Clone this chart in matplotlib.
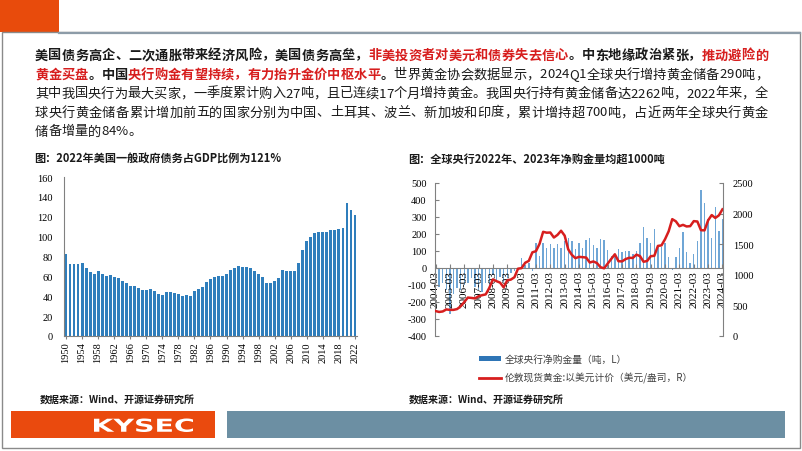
import numpy as np
import matplotlib
matplotlib.use("Agg")
import matplotlib.pyplot as plt
from matplotlib.font_manager import FontProperties
from matplotlib.textpath import TextPath
from matplotlib.patches import PathPatch, Rectangle, Patch
from matplotlib.lines import Line2D
from matplotlib.transforms import Affine2D

plt.rcParams['axes.unicode_minus'] = False

CJK = 'Noto Sans CJK SC'
SERIF = 'Liberation Serif'
RED = '#D71E1E'
ORANGE = '#E84B0C'
GRAY = '#808080'

# ---------------- data ----------------
# left chart: US general government debt / GDP (%)
years = np.arange(1950, 2023)
debt_ratio = [
    83.0, 72.8, 72.5, 72.0, 73.5, 68.5, 64.8, 62.4, 65.0, 62.4,
    60.7, 61.4, 59.4, 58.0, 55.7, 53.0, 50.3, 50.3, 48.7, 46.6,
    46.6, 47.0, 45.6, 42.6, 41.6, 44.6, 44.6, 43.6, 42.3, 40.6,
    41.3, 40.6, 45.0, 47.7, 49.3, 54.4, 57.7, 59.4, 60.4, 60.4,
    62.0, 66.8, 68.8, 70.5, 69.5, 69.0, 68.5, 65.8, 62.8, 59.4,
    53.4, 53.4, 55.7, 58.7, 66.0, 65.8, 65.0, 65.0, 73.8, 87.0,
    95.3, 99.3, 103.4, 104.7, 104.7, 105.0, 107.0, 106.4, 107.4, 108.7,
    133.6, 126.5, 121.5,
]
debt_ticks = np.arange(1950, 2023, 4)

# right chart: quarterly, 2004Q1 .. 2024Q1
q_labels = [f"{y}-03" for y in range(2004, 2025)]
cb_net_purchases = [
    -60, -110, -90, -130,
    -270, -150, -120, -130,
    -100, -90, -60, -110,
    -130, -140, -90, -120,
    -40, -70, -50, -80,
    -60, -30, -20, -10,
    60, 15, 30, -15,
    145, 70, 150, 120,
    140, 120, 140, 115,
    160, 175, 160, 110,
    145, 118, 165, 175,
    137, 120, 170, 165,
    105, 72, 72, 110,
    92, 98, 98, 82,
    98, 150, 243, 176,
    145, 230, 131, 122,
    145, 63, -10, 63,
    118, 214, 92, 27,
    82, 157, 460, 384,
    286, 175, 357, 220,
    290,
]
gold_price = [
    408, 393, 401, 434,
    427, 427, 440, 485,
    554, 628, 622, 614,
    650, 667, 680, 788,
    925, 896, 872, 795,
    908, 922, 960, 1100,
    1109, 1197, 1227, 1367,
    1386, 1506, 1702, 1688,
    1691, 1609, 1652, 1720,
    1640, 1415, 1326, 1272,
    1293, 1288, 1282, 1201,
    1218, 1192, 1124, 1106,
    1183, 1260, 1335, 1222,
    1219, 1257, 1278, 1275,
    1329, 1306, 1213, 1226,
    1304, 1310, 1472, 1481,
    1583, 1711, 1909, 1874,
    1794, 1816, 1790, 1795,
    1877, 1871, 1729, 1726,
    1890, 1976, 1929, 1971,
    2070,
]

# paragraph (text, colour, weight) per line
K, R = '#1A1A1A', RED
para_lines = [
    [("美国债务高企、二次通胀带来经济风险，美国债务高垒，", K, 'bold'),
     ("非美投资者对美元和债券失去信心", R, 'bold'),
     ("。中东地缘政治紧张，", K, 'bold'),
     ("推动避险的", R, 'bold')],
    [("黄金买盘", R, 'bold'),
     ("。中国", K, 'bold'),
     ("央行购金有望持续，有力抬升金价中枢水平", R, 'bold'),
     ("。", K, 'bold'),
     ("世界黄金协会数据显示，2024Q1全球央行增持黄金储备290吨，", K, 'normal')],
    [("其中我国央行为最大买家，一季度累计购入27吨，且已连续17个月增持黄金。我国央行持有黄金储备达2262吨，2022年来，全", K, 'normal')],
    [("球央行黄金储备累计增加前五的国家分别为中国、土耳其、波兰、新加坡和印度，累计增持超700吨，占近两年全球央行黄金", K, 'normal')],
    [("储备增量的84%。", K, 'normal')],
]

# ---------------- figure ----------------
W, H = 802, 452
fig = plt.figure(figsize=(W / 100, H / 100), dpi=100)
bg = fig.add_axes([0, 0, 1, 1])
bg.set_xlim(0, W)
bg.set_ylim(H, 0)
bg.axis('off')


def px_rect(x0, y0, x1, y1):
    return [x0 / W, 1 - y1 / H, (x1 - x0) / W, (y1 - y0) / H]


# slide decoration
bg.add_patch(Rectangle((0, 0), 59, 33, color=ORANGE, lw=0))
bg.plot([59, 800], [33.5, 33.5], color='#8D9CA8', lw=1.6)
bg.add_patch(Rectangle((1.5, 33), 798, 415.5, fill=False, ec='#8A8A8A', lw=1))
bg.add_patch(Rectangle((11, 412), 204, 27, color='#EA4A0E', lw=0))
bg.add_patch(Rectangle((227, 412), 558, 27, color='#6C8FA3', lw=0))

tp = TextPath((0, 0), "KYSEC", size=10, prop=FontProperties(family='DejaVu Sans', weight='bold'))
ext = tp.get_extents()
sx, sy = 99 / ext.width, 13.5 / ext.height
tr = Affine2D().translate(-ext.x0, -ext.y0).scale(sx, -sy).translate(94, 433)
bg.add_patch(PathPatch(tr.transform_path(tp), color='white', lw=0))

# ---------------- paragraph (justified) ----------------
FS = 9.5
renderer = fig.canvas.get_renderer()
_adv = {}


def advance(ch, weight):
    key = (ch, weight)
    if key not in _adv:
        fp = FontProperties(family=CJK, size=FS, weight=weight)
        w2 = renderer.get_text_width_height_descent("口口", fp, ismath=False)[0]
        w3 = renderer.get_text_width_height_descent("口" + ch + "口", fp, ismath=False)[0]
        _adv[key] = w3 - w2
    return _adv[key]


def draw_line(segs, y, x0=35, x1=768, justify=True):
    chars = []
    for s, color, weight in segs:
        for ch in s:
            chars.append((ch, color, weight, advance(ch, weight)))
    total = sum(c[3] for c in chars)
    gap = (x1 - x0 - total) / (len(chars) - 1) if justify else 0
    x = x0
    for ch, color, weight, w in chars:
        bg.text(x, y, ch, color=color, fontsize=FS, fontweight=weight,
                family=CJK, ha='left', va='baseline')
        x += w + gap


line_y = [59.5, 78.5, 97.5, 116.5, 135.5]
for i, segs in enumerate(para_lines):
    draw_line(segs, line_y[i], justify=(i < 4))

# titles and sources
bg.text(34, 159, "图：2022年美国一般政府债务占GDP比例为121%", fontsize=8, fontweight='bold',
        family=CJK, va='center', color=K)
bg.text(408, 159, "图：全球央行2022年、2023年净购金量均超1000吨", fontsize=8, fontweight='bold',
        family=CJK, va='center', color=K)
bg.text(40, 400, "数据来源：Wind、开源证券研究所", fontsize=7.2, fontweight='bold',
        family=CJK, va='center', color=K)
bg.text(409, 400, "数据来源：Wind、开源证券研究所", fontsize=7.2, fontweight='bold',
        family=CJK, va='center', color=K)

# ---------------- left chart ----------------
BLUE_L = '#2F7EBC'
axl = fig.add_axes(px_rect(64, 178, 357, 337))
axl.set_facecolor('none')
axl.bar(years, debt_ratio, width=0.72, color=BLUE_L, lw=0)
axl.set_xlim(1949.5, 2022.5)
axl.set_ylim(0, 160)
axl.set_yticks(range(0, 161, 20))
axl.set_xticks(debt_ticks)
axl.set_xticklabels([str(y) for y in debt_ticks])
for s in ['top', 'right']:
    axl.spines[s].set_visible(False)
for s in ['left', 'bottom']:
    axl.spines[s].set_color(GRAY)
    axl.spines[s].set_linewidth(0.8)
axl.tick_params(axis='y', length=0, pad=8, labelsize=7.5)
axl.tick_params(axis='x', length=2, pad=2, labelsize=7.5, color=GRAY, labelrotation=90,
                labelfontfamily=SERIF)
axl.tick_params(axis='y', labelfontfamily=SERIF)

bg.legend(handles=[Patch(facecolor=BLUE_L, label="公共部门债务占GDP比重:一般政府债务:美国 %")],
          loc='center', bbox_to_anchor=(200, 379), bbox_transform=bg.transData,
          frameon=False, handlelength=0.6, handleheight=0.6, handletextpad=0.2,
          prop=FontProperties(family=CJK, size=7), labelcolor='#404040', borderpad=0)

# ---------------- right chart ----------------
BAR_R = '#6FA6D6'
axr = fig.add_axes(px_rect(435, 184, 723, 337))
axr.set_facecolor('none')
xq = np.arange(len(cb_net_purchases))
axr.bar(xq, cb_net_purchases, width=0.4, color=BAR_R, lw=0)
axr.set_xlim(-0.15, len(xq) - 0.85)
axr.set_ylim(-400, 500)
axr.set_yticks(range(-400, 501, 100))
axr.set_xticks(np.arange(0, len(xq), 4))
axr.set_xticklabels(q_labels)
axr.spines['bottom'].set_position(('data', 0))
for s in ['top', 'right']:
    axr.spines[s].set_visible(False)
for s in ['left', 'bottom']:
    axr.spines[s].set_color(GRAY)
    axr.spines[s].set_linewidth(0.8)
axr.tick_params(axis='y', direction='in', length=3, pad=6, labelsize=7.5, color=GRAY,
                labelfontfamily=SERIF)
axr.tick_params(axis='x', direction='in', length=3, pad=1.5, labelsize=8, color=GRAY,
                labelrotation=90, labelfontfamily=SERIF)

axr2 = axr.twinx()
axr2.set_facecolor('none')
axr2.plot(xq, gold_price, color=RED, lw=1.8)
axr2.set_ylim(0, 2500)
axr2.set_yticks(range(0, 2501, 500))
for s in ['top', 'left', 'bottom']:
    axr2.spines[s].set_visible(False)
axr2.spines['right'].set_color(GRAY)
axr2.spines['right'].set_linewidth(0.8)
axr2.tick_params(axis='y', direction='in', length=3, pad=7, labelsize=7.5, color=GRAY,
                 labelfontfamily=SERIF)

bg.legend(handles=[Patch(facecolor='#2E75B6', label="全球央行净购金量（吨，L）"),
                   Line2D([], [], color=RED, lw=2, label="伦敦现货黄金:以美元计价（美元/盎司，R）")],
          loc='upper left', bbox_to_anchor=(474, 350), bbox_transform=bg.transData,
          frameon=False, handlelength=2.3, handleheight=0.45, handletextpad=0.4,
          labelspacing=0.85, borderpad=0,
          prop=FontProperties(family=CJK, size=7), labelcolor='#404040')

fig.savefig("out.png", dpi=100)
